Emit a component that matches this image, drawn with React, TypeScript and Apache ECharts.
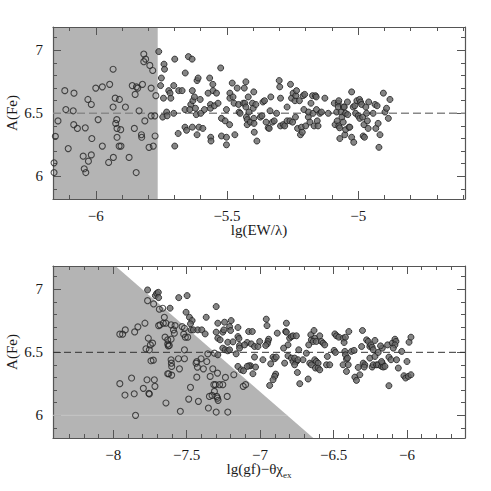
import React, { useEffect, useRef } from 'react';
import * as echarts from 'echarts';

// ---------- data ----------
const Y_RANGE = [5.82, 7.185];
const TOP_X_RANGE = [-6.163, -4.593];
const BOT_X_RANGE = [-8.41, -5.605];

const Y_MAJOR = [6, 6.5, 7];
const Y_MINOR = [5.9, 6.1, 6.2, 6.3, 6.4, 6.6, 6.7, 6.8, 6.9, 7.1];
const TOP_X_MAJOR = [-6, -5.5, -5];
const TOP_X_MINOR = [-6.1, -5.9, -5.8, -5.7, -5.6, -5.4, -5.3, -5.2, -5.1, -4.9, -4.8, -4.7, -4.6];
const BOT_X_MAJOR = [-8, -7.5, -7, -6.5, -6];
const BOT_X_MINOR = [-8.3, -8.2, -8.1, -7.9, -7.8, -7.7, -7.6, -7.4, -7.3, -7.2, -7.1, -6.9, -6.8, -6.7, -6.6, -6.4, -6.3, -6.2, -6.1, -5.9, -5.8, -5.7];

const REF_LEVEL = 6.5;
const TOP_SHADE = [[-6.163, 5.82], [-6.163, 7.185], [-5.764, 7.185], [-5.764, 5.82]];
const BOT_SHADE = [[-8.41, 5.82], [-8.41, 7.185], [-7.985, 7.185], [-6.638, 5.82]];
const BOT_FAINT = [[-8.41, 6.0], [-6.816, 6.0]];

const topOpen = [
  [-6.159, 6.107], [-6.159, 6.03], [-6.154, 6.317], [-6.144, 6.44], [-6.118, 6.68], [-6.114, 6.53], [-6.105, 6.22],
  [-6.086, 6.52], [-6.084, 6.41], [-6.083, 6.66], [-6.07, 6.38], [-6.048, 6.16], [-6.044, 6.06], [-6.04, 6.385],
  [-6.038, 6.03], [-6.03, 6.61], [-6.028, 6.12], [-6.015, 6.30], [-6.017, 6.57], [-6.017, 6.17], [-6.0, 6.70],
  [-5.991, 6.45], [-5.975, 6.71], [-5.975, 6.24], [-5.951, 6.11], [-5.947, 6.73], [-5.934, 6.85], [-5.934, 6.55],
  [-5.933, 6.15], [-5.926, 6.62], [-5.924, 6.42], [-5.92, 6.45], [-5.919, 6.38], [-5.919, 6.31], [-5.91, 6.61],
  [-5.911, 6.24], [-5.905, 6.37], [-5.904, 6.24], [-5.887, 6.55], [-5.873, 6.15], [-5.861, 6.72], [-5.853, 6.38],
  [-5.85, 6.65], [-5.845, 6.71], [-5.84, 6.70], [-5.846, 6.03], [-5.835, 6.52], [-5.826, 6.33], [-5.825, 6.31],
  [-5.822, 6.73], [-5.817, 6.97], [-5.817, 6.91], [-5.813, 6.44], [-5.81, 6.93], [-5.797, 6.23], [-5.794, 6.88],
  [-5.789, 6.70], [-5.789, 6.48], [-5.783, 6.84], [-5.781, 6.24], [-5.775, 6.48], [-5.774, 6.32], [-5.771, 6.64],
];

const topFilled = [
  [-5.76, 6.99], [-5.753, 6.72], [-5.75, 6.78], [-5.74, 6.89], [-5.738, 6.85], [-5.742, 6.62], [-5.745, 6.47],
  [-5.73, 6.51], [-5.728, 6.48], [-5.722, 6.68], [-5.717, 6.66], [-5.714, 6.62], [-5.703, 6.72], [-5.703, 6.50],
  [-5.699, 6.93], [-5.699, 6.24], [-5.686, 6.34], [-5.684, 6.68], [-5.671, 6.68], [-5.659, 6.82], [-5.66, 6.53],
  [-5.66, 6.39], [-5.654, 6.365], [-5.647, 6.95], [-5.638, 6.57], [-5.642, 6.53], [-5.633, 6.93], [-5.632, 6.68],
  [-5.63, 6.60], [-5.632, 6.39], [-5.624, 6.63], [-5.62, 6.54], [-5.617, 6.49], [-5.614, 6.76], [-5.61, 6.78],
  [-5.607, 6.39], [-5.614, 6.33], [-5.602, 6.61], [-5.6, 6.50], [-5.592, 6.38], [-5.586, 6.53], [-5.572, 6.66],
  [-5.566, 6.78], [-5.563, 6.57], [-5.563, 6.54], [-5.562, 6.31], [-5.561, 6.28], [-5.554, 6.73], [-5.553, 6.68],
  [-5.548, 6.56], [-5.54, 6.66], [-5.534, 6.58], [-5.524, 6.86], [-5.521, 6.46], [-5.521, 6.32], [-5.507, 6.44],
  [-5.502, 6.53], [-5.502, 6.31], [-5.502, 6.25], [-5.49, 6.41], [-5.489, 6.66], [-5.489, 6.62], [-5.48, 6.74],
  [-5.477, 6.63], [-5.473, 6.58], [-5.47, 6.33], [-5.461, 6.70], [-5.456, 6.57], [-5.454, 6.51], [-5.45, 6.50],
  [-5.438, 6.58], [-5.434, 6.70], [-5.432, 6.58], [-5.428, 6.75], [-5.428, 6.55], [-5.426, 6.47], [-5.423, 6.45],
  [-5.423, 6.41], [-5.419, 6.63], [-5.416, 6.51], [-5.411, 6.43], [-5.403, 6.58], [-5.4, 6.54], [-5.398, 6.67],
  [-5.398, 6.46], [-5.397, 6.42], [-5.396, 6.35], [-5.39, 6.57], [-5.386, 6.28], [-5.373, 6.47], [-5.367, 6.48],
  [-5.363, 6.59], [-5.357, 6.60], [-5.351, 6.43], [-5.343, 6.385], [-5.339, 6.38], [-5.336, 6.52], [-5.333, 6.63],
  [-5.327, 6.43], [-5.32, 6.44], [-5.311, 6.50], [-5.301, 6.76], [-5.299, 6.71], [-5.296, 6.62], [-5.296, 6.40],
  [-5.286, 6.41], [-5.28, 6.40], [-5.271, 6.55], [-5.271, 6.44], [-5.26, 6.44], [-5.258, 6.73], [-5.254, 6.62],
  [-5.25, 6.43], [-5.248, 6.66], [-5.241, 6.60], [-5.239, 6.47], [-5.238, 6.64], [-5.235, 6.68], [-5.231, 6.38],
  [-5.224, 6.60], [-5.22, 6.33], [-5.216, 6.39], [-5.213, 6.35], [-5.21, 6.64], [-5.207, 6.53], [-5.204, 6.65],
  [-5.2, 6.40], [-5.19, 6.47], [-5.189, 6.51], [-5.184, 6.43], [-5.18, 6.58], [-5.174, 6.64], [-5.172, 6.50],
  [-5.168, 6.40], [-5.163, 6.64], [-5.16, 6.63], [-5.159, 6.53], [-5.156, 6.44], [-5.153, 6.40], [-5.146, 6.50],
  [-5.14, 6.51], [-5.127, 6.62], [-5.114, 6.50], [-5.091, 6.58], [-5.088, 6.41], [-5.082, 6.51], [-5.08, 6.44],
  [-5.076, 6.58], [-5.076, 6.55], [-5.074, 6.60], [-5.074, 6.40], [-5.071, 6.385], [-5.07, 6.30], [-5.065, 6.51],
  [-5.062, 6.47], [-5.057, 6.43], [-5.056, 6.55], [-5.053, 6.55], [-5.051, 6.33], [-5.048, 6.50], [-5.048, 6.37],
  [-5.041, 6.59], [-5.04, 6.49], [-5.035, 6.39], [-5.032, 6.39], [-5.025, 6.67], [-5.025, 6.31], [-5.019, 6.55],
  [-5.017, 6.27], [-5.013, 6.56], [-5.01, 6.50], [-5.005, 6.60], [-5.0, 6.48], [-4.995, 6.61], [-4.994, 6.46],
  [-4.991, 6.59], [-4.987, 6.57], [-4.983, 6.47], [-4.981, 6.32], [-4.978, 6.41], [-4.976, 6.31], [-4.971, 6.55],
  [-4.968, 6.50], [-4.965, 6.44], [-4.962, 6.38], [-4.96, 6.59], [-4.943, 6.50], [-4.936, 6.57], [-4.933, 6.38],
  [-4.928, 6.56], [-4.924, 6.42], [-4.921, 6.23], [-4.917, 6.33], [-4.904, 6.66], [-4.898, 6.51], [-4.892, 6.54],
  [-4.885, 6.46], [-4.879, 6.61],
];

const botOpen = [
  [-7.955, 6.644], [-7.936, 6.644], [-7.918, 6.678], [-7.955, 6.251], [-7.92, 6.161], [-7.875, 6.296], [-7.857, 6.171],
  [-7.854, 6.662], [-7.848, 6.0], [-7.832, 6.702], [-7.795, 6.214], [-7.784, 6.731], [-7.777, 6.528], [-7.77, 6.282],
  [-7.766, 6.91], [-7.761, 6.612], [-7.757, 6.174], [-7.754, 6.52], [-7.747, 6.559], [-7.743, 6.433], [-7.727, 6.438],
  [-7.72, 6.282], [-7.716, 6.23], [-7.725, 6.884], [-7.686, 6.842], [-7.663, 6.85], [-7.681, 6.718], [-7.691, 6.712],
  [-7.659, 6.731], [-7.652, 6.778], [-7.647, 6.62], [-7.641, 6.098], [-7.641, 6.731], [-7.629, 6.599], [-7.625, 6.551],
  [-7.622, 6.33], [-7.606, 6.604], [-7.606, 6.718], [-7.604, 6.414], [-7.602, 6.388], [-7.602, 6.319], [-7.59, 6.678],
  [-7.579, 6.712], [-7.556, 6.449], [-7.549, 6.369], [-7.543, 6.032], [-7.531, 6.704], [-7.52, 6.644], [-7.515, 6.52],
  [-7.515, 6.449], [-7.509, 6.62], [-7.515, 6.691], [-7.493, 6.62], [-7.486, 6.129], [-7.474, 6.222], [-7.436, 6.414],
  [-7.431, 6.303], [-7.427, 6.383], [-7.42, 6.111], [-7.402, 6.449], [-7.386, 6.369], [-7.363, 6.427], [-7.356, 6.488],
  [-7.352, 6.058], [-7.345, 6.15], [-7.34, 6.309], [-7.327, 6.158], [-7.322, 6.369], [-7.315, 6.243], [-7.311, 6.19],
  [-7.304, 6.243], [-7.299, 6.026], [-7.295, 6.15], [-7.29, 6.335], [-7.29, 6.137], [-7.286, 6.119], [-7.276, 6.243],
  [-7.254, 6.243], [-7.236, 6.301], [-7.224, 6.15], [-7.22, 6.026], [-7.179, 6.322], [-7.115, 6.23], [-7.099, 6.243],
  [-7.311, 6.493], [-7.431, 6.427], [-7.584, 6.652], [-7.606, 6.441], [-7.732, 6.573], [-7.629, 6.565], [-7.618, 6.554],
  [-7.629, 6.33], [-7.754, 6.169],
];

const botFilled = [
  [-7.766, 6.995], [-7.713, 6.95], [-7.704, 6.968], [-7.693, 6.976], [-7.691, 6.934], [-7.613, 6.85], [-7.554, 6.934],
  [-7.497, 6.95], [-7.504, 6.818], [-7.481, 6.778], [-7.463, 6.752], [-7.474, 6.726], [-7.47, 6.678], [-7.454, 6.678],
  [-7.424, 6.678], [-7.397, 6.678], [-7.374, 6.646], [-7.367, 6.778], [-7.299, 6.863], [-7.288, 6.731], [-7.299, 6.66],
  [-7.288, 6.612], [-7.272, 6.599], [-7.254, 6.66], [-7.247, 6.678], [-7.242, 6.739], [-7.197, 6.752], [-7.208, 6.704],
  [-7.201, 6.673], [-7.151, 6.697], [-7.22, 6.58], [-7.185, 6.583], [-7.151, 6.625], [-7.144, 6.609], [-7.14, 6.554],
  [-7.14, 6.533], [-7.254, 6.533], [-7.238, 6.52], [-7.22, 6.512], [-7.208, 6.52], [-7.163, 6.488], [-7.288, 6.48],
  [-7.088, 6.578], [-7.106, 6.559], [-7.078, 6.665], [-7.053, 6.665], [-7.06, 6.567], [-7.038, 6.546], [-7.065, 6.393],
  [-7.076, 6.393], [-7.088, 6.388], [-7.038, 6.462], [-7.151, 6.388], [-7.129, 6.361], [-7.113, 6.354], [-7.031, 6.383],
  [-7.049, 6.33], [-7.015, 6.546], [-7.003, 6.586], [-6.981, 6.441], [-6.958, 6.763], [-6.953, 6.712], [-6.942, 6.604],
  [-6.947, 6.586], [-6.951, 6.567], [-6.962, 6.554], [-6.928, 6.409], [-6.912, 6.462], [-6.901, 6.449], [-6.89, 6.462],
  [-6.883, 6.652], [-6.894, 6.327], [-6.901, 6.309], [-6.912, 6.282], [-6.935, 6.237], [-6.833, 6.414], [-6.826, 6.665],
  [-6.821, 6.731], [-6.81, 6.559], [-6.84, 6.533], [-6.821, 6.66], [-6.799, 6.612], [-6.787, 6.625], [-6.776, 6.631],
  [-6.753, 6.631], [-6.81, 6.472], [-6.787, 6.454], [-6.776, 6.427], [-6.753, 6.427], [-6.765, 6.454], [-6.742, 6.441],
  [-6.765, 6.401], [-6.737, 6.52], [-6.746, 6.34], [-6.73, 6.251], [-6.708, 6.441], [-6.685, 6.493], [-6.673, 6.288],
  [-6.669, 6.559], [-6.655, 6.639], [-6.651, 6.599], [-6.633, 6.673], [-6.628, 6.612], [-6.639, 6.586], [-6.617, 6.586],
  [-6.662, 6.414], [-6.651, 6.401], [-6.628, 6.441], [-6.617, 6.427], [-6.605, 6.414], [-6.623, 6.375], [-6.605, 6.375],
  [-6.594, 6.361], [-6.594, 6.631], [-6.582, 6.586], [-6.571, 6.573], [-6.56, 6.559], [-6.548, 6.401], [-6.526, 6.401],
  [-6.542, 6.467], [-6.491, 6.646], [-6.48, 6.631], [-6.496, 6.515], [-6.487, 6.499], [-6.464, 6.62], [-6.435, 6.612],
  [-6.428, 6.578], [-6.419, 6.62], [-6.423, 6.507], [-6.419, 6.48], [-6.412, 6.446], [-6.405, 6.454], [-6.435, 6.401],
  [-6.4, 6.401], [-6.412, 6.348], [-6.396, 6.665], [-6.378, 6.507], [-6.36, 6.515], [-6.355, 6.303], [-6.344, 6.277],
  [-6.332, 6.38], [-6.321, 6.322], [-6.309, 6.546], [-6.303, 6.673], [-6.298, 6.414], [-6.287, 6.401], [-6.291, 6.383],
  [-6.275, 6.599], [-6.264, 6.586], [-6.253, 6.546], [-6.246, 6.559], [-6.237, 6.541], [-6.23, 6.52], [-6.218, 6.594],
  [-6.253, 6.454], [-6.237, 6.383], [-6.23, 6.401], [-6.207, 6.401], [-6.196, 6.401], [-6.173, 6.388], [-6.168, 6.414],
  [-6.162, 6.383], [-6.173, 6.427], [-6.15, 6.388], [-6.218, 6.467], [-6.196, 6.499], [-6.168, 6.533], [-6.18, 6.551],
  [-6.132, 6.559], [-6.1, 6.573], [-6.123, 6.462], [-6.109, 6.441], [-6.082, 6.604], [-6.075, 6.586], [-6.082, 6.559],
  [-6.071, 6.441], [-6.093, 6.533], [-6.059, 6.375], [-6.123, 6.235], [-6.036, 6.507], [-6.021, 6.314], [-6.009, 6.296],
  [-5.991, 6.309], [-5.973, 6.322], [-6.0, 6.427], [-5.986, 6.58], [-5.973, 6.62],
];

// ---------- styling ----------
const FONT = 'Liberation Serif';
const AXIS_COLOR = '#555';
const TEXT_COLOR = '#1a1a1a';
const SHADE = '#b4b4b4';

const fmt = (v: number) => String(v).replace('-', '\u2212');

function xAxes(grid: number, range: number[], major: number[], minor: number[], name: string) {
  const base = {
    type: 'value', gridIndex: grid, min: range[0], max: range[1],
    splitLine: { show: false },
  };
  return [
    {
      ...base, position: 'bottom', name, nameLocation: 'middle', nameGap: 21, nameMoveOverlap: false,
      nameTextStyle: {
        fontFamily: FONT, fontSize: 15, color: TEXT_COLOR, lineHeight: 20,
        rich: { sub: { fontFamily: FONT, fontSize: 9, color: TEXT_COLOR, verticalAlign: 'bottom', lineHeight: 20 } },
      },
      axisLine: { show: true, onZero: false, lineStyle: { color: AXIS_COLOR, width: 1.2 } },
      axisTick: { show: true, inside: true, length: 8, customValues: major, lineStyle: { color: AXIS_COLOR } },
      axisLabel: { show: true, customValues: major, formatter: fmt, margin: 9, fontFamily: FONT, fontSize: 15, color: TEXT_COLOR },
    },
    {
      ...base, position: 'bottom',
      axisLine: { show: false, onZero: false },
      axisTick: { show: true, inside: true, length: 4, customValues: minor, lineStyle: { color: AXIS_COLOR } },
      axisLabel: { show: false },
    },
    {
      ...base, position: 'top',
      axisLine: { show: true, onZero: false, lineStyle: { color: AXIS_COLOR, width: 1.2 } },
      axisTick: { show: true, inside: true, length: 8, customValues: major, lineStyle: { color: AXIS_COLOR } },
      axisLabel: { show: false },
    },
    {
      ...base, position: 'top',
      axisLine: { show: false, onZero: false },
      axisTick: { show: true, inside: true, length: 4, customValues: minor, lineStyle: { color: AXIS_COLOR } },
      axisLabel: { show: false },
    },
  ];
}

function yAxes(grid: number) {
  const base = {
    type: 'value', gridIndex: grid, min: Y_RANGE[0], max: Y_RANGE[1],
    splitLine: { show: false },
  };
  return [
    {
      ...base, position: 'left', name: 'A(Fe)', nameLocation: 'middle', nameGap: 34, nameRotate: 90, nameMoveOverlap: false,
      nameTextStyle: { fontFamily: FONT, fontSize: 15, color: TEXT_COLOR },
      axisLine: { show: true, onZero: false, lineStyle: { color: AXIS_COLOR, width: 1.2 } },
      axisTick: { show: true, inside: true, length: 8, customValues: Y_MAJOR, lineStyle: { color: AXIS_COLOR } },
      axisLabel: { show: true, customValues: Y_MAJOR, formatter: fmt, margin: 10, fontFamily: FONT, fontSize: 15, color: TEXT_COLOR },
    },
    {
      ...base, position: 'left',
      axisLine: { show: false, onZero: false },
      axisTick: { show: true, inside: true, length: 4, customValues: Y_MINOR, lineStyle: { color: AXIS_COLOR } },
      axisLabel: { show: false },
    },
    {
      ...base, position: 'right',
      axisLine: { show: true, onZero: false, lineStyle: { color: AXIS_COLOR, width: 1.2 } },
      axisTick: { show: true, inside: true, length: 8, customValues: Y_MAJOR, lineStyle: { color: AXIS_COLOR } },
      axisLabel: { show: false },
    },
    {
      ...base, position: 'right',
      axisLine: { show: false, onZero: false },
      axisTick: { show: true, inside: true, length: 4, customValues: Y_MINOR, lineStyle: { color: AXIS_COLOR } },
      axisLabel: { show: false },
    },
  ];
}

function shade(axisIdx: number, poly: number[][]) {
  return {
    type: 'custom', xAxisIndex: axisIdx, yAxisIndex: axisIdx, silent: true, z: 0,
    data: [poly[0]],
    renderItem: (_p: any, api: any) => ({
      type: 'polygon',
      shape: { points: poly.map((pt) => api.coord(pt)) },
      style: { fill: SHADE },
    }),
  };
}

function refLine(axisIdx: number, range: number[], color: string, width: number, dash: number[]) {
  return {
    type: 'line', xAxisIndex: axisIdx, yAxisIndex: axisIdx, silent: true, z: 1,
    symbol: 'none', data: [[range[0], REF_LEVEL], [range[1], REF_LEVEL]],
    lineStyle: { color, width, type: dash },
  };
}

function pts(axisIdx: number, data: number[][], filled: boolean) {
  return {
    type: 'scatter', xAxisIndex: axisIdx, yAxisIndex: axisIdx, silent: true, z: 3,
    symbol: 'circle', symbolSize: 6, data,
    itemStyle: filled
      ? { color: '#666', borderColor: '#1c1c1c', borderWidth: 1 }
      : { color: 'rgba(0,0,0,0)', borderColor: '#262626', borderWidth: 1.1 },
  };
}

export default function App() {
  const ref = useRef<HTMLDivElement>(null);
  useEffect(() => {
    if (!ref.current) return;
    const chart = echarts.init(ref.current, undefined, { renderer: 'svg' });
    chart.setOption({
      animation: false,
      backgroundColor: '#fff',
      grid: [
        { left: 53, top: 27, width: 412, height: 172, outerBoundsMode: 'none', containLabel: false },
        { left: 53, top: 266, width: 412, height: 172, outerBoundsMode: 'none', containLabel: false },
      ],
      xAxis: [
        ...xAxes(0, TOP_X_RANGE, TOP_X_MAJOR, TOP_X_MINOR, 'lg(EW/\u03bb)'),
        ...xAxes(1, BOT_X_RANGE, BOT_X_MAJOR, BOT_X_MINOR, 'lg(gf)\u2212\u03b8\u03c7{sub|ex}'),
      ],
      yAxis: [...yAxes(0), ...yAxes(1)],
      series: [
        shade(0, TOP_SHADE),
        refLine(0, TOP_X_RANGE, '#888', 1.6, [8, 4]),
        pts(0, topOpen, false),
        pts(0, topFilled, true),
        shade(4, BOT_SHADE),
        {
          type: 'line', xAxisIndex: 4, yAxisIndex: 4, silent: true, z: 1, symbol: 'none',
          data: BOT_FAINT, lineStyle: { color: '#c6c6c6', width: 1 },
        },
        refLine(4, BOT_X_RANGE, '#333', 1, [7, 4]),
        pts(4, botOpen, false),
        pts(4, botFilled, true),
      ],
    });
    return () => chart.dispose();
  }, []);
  return (
    <div
      ref={ref}
      style={{ position: 'fixed', left: 0, top: 0, width: 491, height: 491, background: '#fff' }}
    />
  );
}
